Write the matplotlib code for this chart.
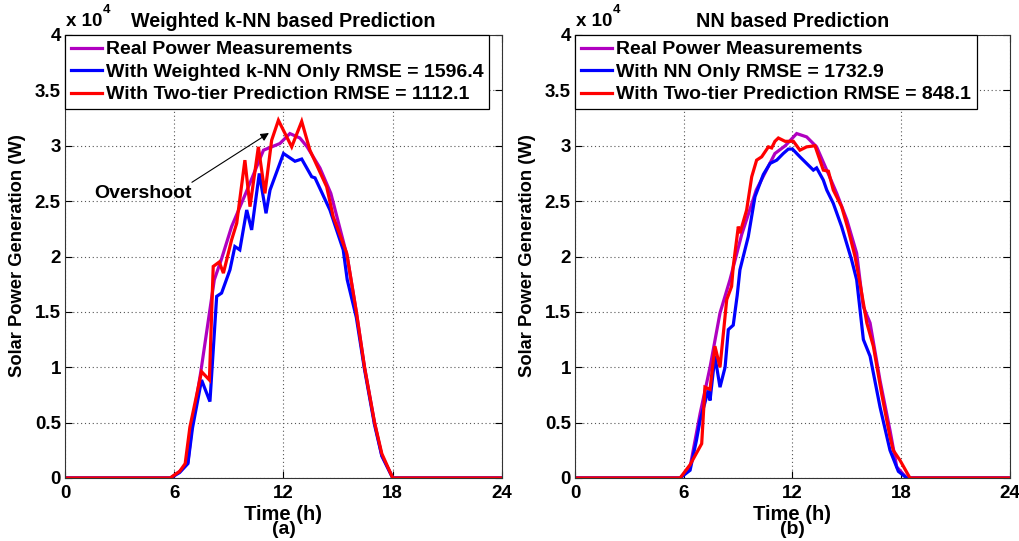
import matplotlib
matplotlib.use("Agg")
import matplotlib.pyplot as plt
from matplotlib.ticker import FixedLocator, FuncFormatter

plt.rcParams['font.family'] = ['Liberation Sans', 'DejaVu Sans']
plt.rcParams['font.weight'] = 'bold'

# ---------------- data (W) ----------------
# (a) Weighted k-NN based prediction
a_real_t = [0, 5.8, 6.3, 6.75, 7.0, 7.45, 8.2, 8.6, 9.15, 10.0, 10.5, 10.9, 11.5, 11.8, 12.35,
            12.9, 13.3, 14.0, 14.6, 15.5, 16.0, 16.45, 17.0, 17.4, 18.0, 24]
a_real_v = [0, 0, 600, 1400, 5000, 9500, 17900, 19800, 22700, 26000, 28000, 29600, 30000, 30200, 31100,
            30700, 29900, 28000, 25700, 20000, 15000, 10000, 5000, 2000, 0, 0]

a_knn_t = [0, 5.8, 6.3, 6.75, 7.0, 7.5, 7.96, 8.33, 8.6, 9.06, 9.33, 9.6, 9.98, 10.25, 10.67,
           11.04, 11.26, 12.0, 12.63, 13.0, 13.55, 13.73, 14.55, 15.28, 15.5, 16.0, 16.45,
           17.0, 17.4, 18.0, 24]
a_knn_v = [0, 0, 500, 1300, 4500, 8850, 6900, 16400, 16700, 18800, 20900, 20600, 24200, 22400, 27500,
           23900, 26000, 29300, 28600, 28800, 27200, 27100, 24200, 20600, 17900, 14500, 9800,
           4800, 2000, 0, 0]

a_two_t = [0, 5.77, 6.3, 6.6, 6.86, 7.5, 7.93, 8.14, 8.47, 8.7, 9.15, 9.43, 9.88, 10.16, 10.62,
           10.98, 11.35, 11.72, 12.45, 13.0, 13.45, 14.37, 14.73, 15.47, 16.0, 16.45, 17.0,
           17.4, 18.0, 24]
a_two_v = [0, 0, 600, 1300, 4600, 9600, 8850, 19100, 19500, 18500, 21500, 23000, 28700, 24500, 29900,
           25700, 30500, 32300, 29900, 32200, 29600, 26300, 23600, 20300, 15000, 10000, 5000,
           2200, 0, 0]

# (b) NN based prediction
b_real_t = [0, 5.8, 6.35, 6.9, 7.45, 8.0, 8.55, 9.2, 10.0, 11.03, 11.6, 12.23, 12.78, 13.33, 13.89,
            14.44, 15.0, 15.54, 15.9, 16.28, 16.83, 17.38, 17.75, 18.3, 24]
b_real_v = [0, 0, 1000, 5800, 10000, 14900, 17900, 22000, 26000, 29300, 30000, 31100, 30800, 29900, 27800,
            25700, 23300, 20300, 15500, 14000, 8800, 4300, 1000, 0, 0]

b_nn_t = [0, 5.8, 6.35, 6.7, 6.9, 7.35, 7.45, 7.72, 8.0, 8.28, 8.46, 8.73, 8.95, 9.1, 9.56, 9.93,
          10.39, 10.76, 11.13, 11.49, 11.77, 12.0, 12.41, 13.15, 13.33, 13.7, 13.89, 14.25, 14.71,
          15.26, 15.54, 15.91, 16.28, 16.83, 17.38, 17.84, 18.3, 24]
b_nn_v = [0, 0, 700, 3400, 5200, 7900, 7000, 11000, 8200, 10000, 13400, 13800, 16500, 18800, 21800, 25400,
          27400, 28400, 28700, 29300, 29700, 29700, 29000, 27800, 28000, 26900, 26000, 24800, 22700,
          19700, 17900, 12500, 11000, 6400, 2500, 600, 0, 0]

b_two_t = [0, 5.8, 6.35, 6.99, 7.17, 7.45, 7.72, 8.0, 8.37, 8.64, 8.73, 9.01, 9.1, 9.47, 9.75,
           10.02, 10.3, 10.67, 10.85, 11.03, 11.22, 11.59, 12.05, 12.41, 12.78, 13.24, 13.7, 13.98,
           14.25, 14.71, 15.08, 15.45, 15.72, 16.1, 16.46, 16.92, 17.38, 17.56, 17.93, 18.48, 24]
b_two_v = [0, 0, 1200, 3100, 8200, 8000, 11900, 10000, 16100, 17300, 19100, 22700, 22100, 24200, 27200,
           28700, 29000, 29900, 29800, 30400, 30700, 30400, 30400, 29600, 29900, 30000, 27800, 27700,
           26000, 24500, 22400, 20000, 17600, 14000, 11900, 7600, 3700, 2500, 1600, 0, 0]

titles = ['Weighted k-NN based Prediction', 'NN based Prediction']
labels_a = ['Real Power Measurements', 'With Weighted k-NN Only RMSE = 1596.4',
            'With Two-tier Prediction RMSE = 1112.1']
labels_b = ['Real Power Measurements', 'With NN Only RMSE = 1732.9',
            'With Two-tier Prediction RMSE = 848.1']
sub_labels = ['(a)', '(b)']
x_ticks = [0, 6, 12, 18, 24]
y_ticks = [0, 5000, 10000, 15000, 20000, 25000, 30000, 35000, 40000]

colors = ['#B000C0', '#0000FF', '#FF0000']

W, H = 1020, 541
fig = plt.figure(figsize=(W / 100, H / 100), dpi=100)
ax_top, ax_bot = 35, 478
ax_specs = [(65, 502), (575, 1010)]

series = [
    [(a_real_t, a_real_v), (a_knn_t, a_knn_v), (a_two_t, a_two_v)],
    [(b_real_t, b_real_v), (b_nn_t, b_nn_v), (b_two_t, b_two_v)],
]
labels = [labels_a, labels_b]

def yfmt(v, pos):
    return '%g' % (v / 1e4)

axes = []
for i, (x0, x1) in enumerate(ax_specs):
    ax = fig.add_axes([x0 / W, 1 - ax_bot / H, (x1 - x0) / W, (ax_bot - ax_top) / H])
    axes.append(ax)
    handles = []
    for (t, v), c, lab in zip(series[i], colors, labels[i]):
        h, = ax.plot(t, v, color=c, lw=2.3, label=lab, solid_joinstyle='miter')
        handles.append(h)
    ax.set_xlim(0, 24)
    ax.set_ylim(0, 40000)
    ax.xaxis.set_major_locator(FixedLocator(x_ticks))
    ax.yaxis.set_major_locator(FixedLocator(y_ticks))
    ax.yaxis.set_major_formatter(FuncFormatter(yfmt))
    ax.grid(True, linestyle=(0, (1, 2.5)), color='#555555', lw=0.8)
    ax.tick_params(direction='in', length=5, width=0.8, top=True, right=True,
                   labelsize=13.5, colors='black')
    ax.tick_params(axis='x', pad=5)
    ax.tick_params(axis='y', pad=3)
    for lbl in ax.get_xticklabels() + ax.get_yticklabels():
        lbl.set_fontweight('bold')
    for sp in ax.spines.values():
        sp.set_linewidth(0.8)
        sp.set_color('#333333')
    ax.set_title(titles[i], fontsize=14.2, fontweight='bold', pad=6)
    leg = ax.legend(handles=handles, loc='upper left', bbox_to_anchor=(0, 1),
                    borderaxespad=0, fancybox=False, framealpha=1, edgecolor='black',
                    prop={'weight': 'bold', 'size': 14}, handlelength=1.6,
                    handletextpad=0.2, labelspacing=0.25, borderpad=0.3)
    leg.get_frame().set_linewidth(0.9)
    cx = (x0 + x1) / 2
    fig.text(cx / W, 1 - 514 / H, 'Time (h)', ha='center', va='center',
             fontsize=14.5, fontweight='bold')
    fig.text(cx / W, 1 - 530 / H, sub_labels[i], ha='center', va='center',
             fontsize=14, fontweight='bold')
    fig.text((x0 - 47) / W, 1 - 256 / H, 'Solar Power Generation (W)', rotation=90,
             ha='center', va='center', fontsize=13.2, fontweight='bold')
    fig.text((x0 + 1) / W, 1 - 26 / H, 'x 10', ha='left', va='baseline',
             fontsize=13.5, fontweight='bold')
    fig.text((x0 + 38) / W, 1 - 13 / H, '4', ha='left', va='baseline',
             fontsize=9.5, fontweight='bold')

# Overshoot annotation on (a)
ax = axes[0]
ax.text(6.95, 25700, 'Overshoot', ha='right', va='center', fontsize=14, fontweight='bold')
ax.annotate('', xy=(11.2, 31150), xytext=(6.97, 26700),
            arrowprops=dict(arrowstyle='-|>', color='black', lw=0.8,
                            mutation_scale=12, shrinkA=0, shrinkB=0))

fig.savefig('out.png', dpi=100)
